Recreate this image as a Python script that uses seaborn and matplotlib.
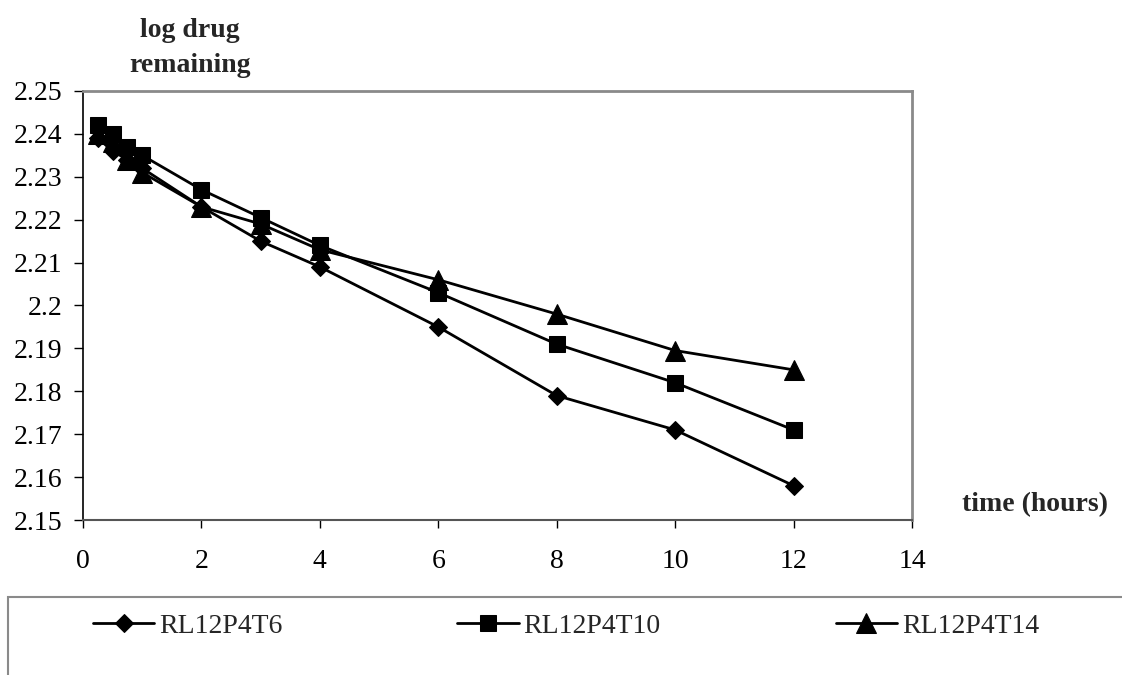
import matplotlib
matplotlib.use("Agg")
import matplotlib.pyplot as plt
import seaborn as sns
import pandas as pd
from matplotlib.patches import Rectangle
from matplotlib.ticker import FuncFormatter

# ---- data ----
time_hours = [0.25, 0.5, 0.75, 1, 2, 3, 4, 6, 8, 10, 12]
series_names = ["RL12P4T6", "RL12P4T10", "RL12P4T14"]
rl12p4t6 = [2.239, 2.236, 2.234, 2.232, 2.223, 2.215, 2.209, 2.195, 2.179, 2.171, 2.158]
rl12p4t10 = [2.242, 2.240, 2.237, 2.235, 2.227, 2.2205, 2.214, 2.203, 2.191, 2.182, 2.171]
rl12p4t14 = [2.240, 2.238, 2.234, 2.231, 2.223, 2.219, 2.213, 2.206, 2.198, 2.1895, 2.185]
x_ticks = [0, 2, 4, 6, 8, 10, 12, 14]
y_ticks = [2.15, 2.16, 2.17, 2.18, 2.19, 2.20, 2.21, 2.22, 2.23, 2.24, 2.25]
y_label_lines = ["log drug", "remaining"]
x_label = "time (hours)"

sns.set_theme(style="white")
plt.rcParams["font.family"] = ["Liberation Serif", "DejaVu Serif"]

W, H = 1122, 675
FS = 20
fig = plt.figure(figsize=(W / 100, H / 100), dpi=100)
L, R, T, B = 83, 912, 91, 520
ax = fig.add_axes([L / W, 1 - B / H, (R - L) / W, (B - T) / H])

df = pd.DataFrame({
    "time": time_hours * 3,
    "value": rl12p4t6 + rl12p4t10 + rl12p4t14,
    "series": [series_names[0]] * len(time_hours)
    + [series_names[1]] * len(time_hours)
    + [series_names[2]] * len(time_hours),
})

marker_map = {"RL12P4T6": ("D", 9.5), "RL12P4T10": ("s", 12), "RL12P4T14": ("^", 14)}
for name in series_names:
    m, ms = marker_map[name]
    sns.lineplot(data=df[df["series"] == name], x="time", y="value", ax=ax,
                 color="black", linewidth=2.0, marker=m, markersize=ms,
                 markeredgecolor="black", markerfacecolor="black",
                 label=name, legend=False)

ax.set_xlim(x_ticks[0], x_ticks[-1])
ax.set_ylim(y_ticks[0], y_ticks[-1])
ax.set_xticks(x_ticks)
ax.set_yticks(y_ticks)
ax.yaxis.set_major_formatter(FuncFormatter(lambda v, p: f"{round(v, 3):g}"))
ax.set_xlabel("")
ax.set_ylabel("")
ax.grid(False)

for s in ["top", "right"]:
    ax.spines[s].set_color("#8a8a8a")
    ax.spines[s].set_linewidth(2.0)
ax.spines["left"].set_color("black")
ax.spines["left"].set_linewidth(1.2)
ax.spines["bottom"].set_color("#555555")
ax.spines["bottom"].set_linewidth(1.5)

ax.tick_params(axis="x", direction="out", length=6, width=1, colors="black",
               labelsize=FS, pad=15, bottom=True)
ax.tick_params(axis="y", direction="out", length=6.5, width=1, colors="black",
               labelsize=FS, pad=8.5, left=True)

fig.text(190 / W, 1 - 37 / H, y_label_lines[0], ha="center", va="baseline",
         fontsize=FS, fontweight="bold")
fig.text(190 / W, 1 - 72 / H, y_label_lines[1], ha="center", va="baseline",
         fontsize=FS, fontweight="bold")
fig.text(1035 / W, 1 - 505 / H, x_label, ha="center", va="center",
         fontsize=FS, fontweight="bold")

# legend box
fig.patches.append(Rectangle((8 / W, -0.05), 1.2, (1 - 597 / H) + 0.05,
                             transform=fig.transFigure, facecolor="white",
                             edgecolor="#8a8a8a", linewidth=1.5, zorder=0))
handles, labels = ax.get_legend_handles_labels()
fig.legend(handles, labels, loc="center left", bbox_to_anchor=(93 / W, 1 - 626 / H),
           ncol=3, frameon=False, fontsize=FS, handlelength=2.2, handletextpad=0.18,
           columnspacing=6.3, borderaxespad=0, borderpad=0)

fig.savefig("out.png", dpi=100, facecolor="white")
